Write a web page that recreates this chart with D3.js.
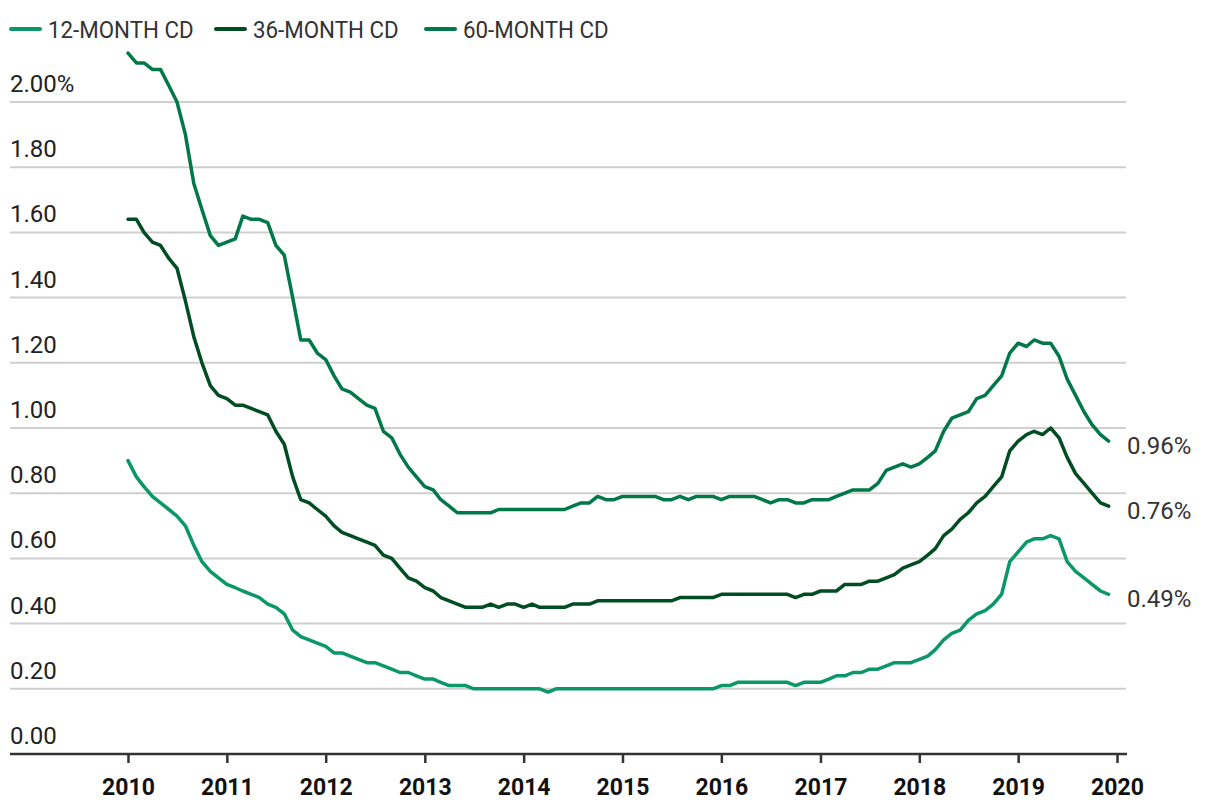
<!DOCTYPE html>
<html><head><meta charset="utf-8">
<script src="https://cdn.jsdelivr.net/npm/d3@7"></script>
<style>
html,body{margin:0;padding:0;background:#fff;}
svg{display:block;font-family:Roboto,"Noto Sans",sans-serif;}
</style></head>
<body><svg id="chart" width="1220" height="812"></svg>
<script>
// Monthly observations, Jan 2010 – Dec 2019
const startMonth = "2010-01-01";
const endMonth = "2019-12-01";
const seriesNames = ["12-MONTH CD", "36-MONTH CD", "60-MONTH CD"];
const seriesColors = ["#0a9868", "#004d23", "#00784a"];
const yTicks = [0, 0.2, 0.4, 0.6, 0.8, 1.0, 1.2, 1.4, 1.6, 1.8, 2.0];
const yTickLabels = ["0.00", "0.20", "0.40", "0.60", "0.80", "1.00", "1.20", "1.40", "1.60", "1.80", "2.00%"];
const xTickYears = [2010, 2011, 2012, 2013, 2014, 2015, 2016, 2017, 2018, 2019, 2020];

const cd12 = [
  0.90, 0.85, 0.82, 0.79, 0.77, 0.75, 0.73, 0.70, 0.64, 0.59, 0.56, 0.54,
  0.52, 0.51, 0.50, 0.49, 0.48, 0.46, 0.45, 0.43, 0.38, 0.36, 0.35, 0.34,
  0.33, 0.31, 0.31, 0.30, 0.29, 0.28, 0.28, 0.27, 0.26, 0.25, 0.25, 0.24,
  0.23, 0.23, 0.22, 0.21, 0.21, 0.21, 0.20, 0.20, 0.20, 0.20, 0.20, 0.20,
  0.20, 0.20, 0.20, 0.19, 0.20, 0.20, 0.20, 0.20, 0.20, 0.20, 0.20, 0.20,
  0.20, 0.20, 0.20, 0.20, 0.20, 0.20, 0.20, 0.20, 0.20, 0.20, 0.20, 0.20,
  0.21, 0.21, 0.22, 0.22, 0.22, 0.22, 0.22, 0.22, 0.22, 0.21, 0.22, 0.22,
  0.22, 0.23, 0.24, 0.24, 0.25, 0.25, 0.26, 0.26, 0.27, 0.28, 0.28, 0.28,
  0.29, 0.30, 0.32, 0.35, 0.37, 0.38, 0.41, 0.43, 0.44, 0.46, 0.49, 0.59,
  0.62, 0.65, 0.66, 0.66, 0.67, 0.66, 0.59, 0.56, 0.54, 0.52, 0.50, 0.49
];
const cd36 = [
  1.64, 1.64, 1.60, 1.57, 1.56, 1.52, 1.49, 1.39, 1.28, 1.20, 1.13, 1.10,
  1.09, 1.07, 1.07, 1.06, 1.05, 1.04, 0.99, 0.95, 0.85, 0.78, 0.77, 0.75,
  0.73, 0.70, 0.68, 0.67, 0.66, 0.65, 0.64, 0.61, 0.60, 0.57, 0.54, 0.53,
  0.51, 0.50, 0.48, 0.47, 0.46, 0.45, 0.45, 0.45, 0.46, 0.45, 0.46, 0.46,
  0.45, 0.46, 0.45, 0.45, 0.45, 0.45, 0.46, 0.46, 0.46, 0.47, 0.47, 0.47,
  0.47, 0.47, 0.47, 0.47, 0.47, 0.47, 0.47, 0.48, 0.48, 0.48, 0.48, 0.48,
  0.49, 0.49, 0.49, 0.49, 0.49, 0.49, 0.49, 0.49, 0.49, 0.48, 0.49, 0.49,
  0.50, 0.50, 0.50, 0.52, 0.52, 0.52, 0.53, 0.53, 0.54, 0.55, 0.57, 0.58,
  0.59, 0.61, 0.63, 0.67, 0.69, 0.72, 0.74, 0.77, 0.79, 0.82, 0.85, 0.93,
  0.96, 0.98, 0.99, 0.98, 1.00, 0.97, 0.91, 0.86, 0.83, 0.80, 0.77, 0.76
];
const cd60 = [
  2.15, 2.12, 2.12, 2.10, 2.10, 2.05, 2.00, 1.90, 1.75, 1.67, 1.59, 1.56,
  1.57, 1.58, 1.65, 1.64, 1.64, 1.63, 1.56, 1.53, 1.40, 1.27, 1.27, 1.23,
  1.21, 1.16, 1.12, 1.11, 1.09, 1.07, 1.06, 0.99, 0.97, 0.92, 0.88, 0.85,
  0.82, 0.81, 0.78, 0.76, 0.74, 0.74, 0.74, 0.74, 0.74, 0.75, 0.75, 0.75,
  0.75, 0.75, 0.75, 0.75, 0.75, 0.75, 0.76, 0.77, 0.77, 0.79, 0.78, 0.78,
  0.79, 0.79, 0.79, 0.79, 0.79, 0.78, 0.78, 0.79, 0.78, 0.79, 0.79, 0.79,
  0.78, 0.79, 0.79, 0.79, 0.79, 0.78, 0.77, 0.78, 0.78, 0.77, 0.77, 0.78,
  0.78, 0.78, 0.79, 0.80, 0.81, 0.81, 0.81, 0.83, 0.87, 0.88, 0.89, 0.88,
  0.89, 0.91, 0.93, 0.99, 1.03, 1.04, 1.05, 1.09, 1.10, 1.13, 1.16, 1.23,
  1.26, 1.25, 1.27, 1.26, 1.26, 1.22, 1.15, 1.10, 1.05, 1.01, 0.98, 0.96
];
const seriesValues = [cd12, cd36, cd60];
const endLabels = ["0.49%", "0.76%", "0.96%"];

const parse = d3.utcParse("%Y-%m-%d");
const months = d3.utcMonth.range(parse(startMonth), d3.utcMonth.offset(parse(endMonth), 1));

const svg = d3.select("#chart");
const x = d3.scaleUtc()
  .domain([new Date(Date.UTC(2010, 0, 1)), new Date(Date.UTC(2020, 0, 1))])
  .range([128, 1117]);
const y = d3.scaleLinear().domain([0, 2]).range([754, 102]);

// gridlines
const grid = svg.append("g");
grid.selectAll("line").data(yTicks.filter(d => d > 0)).join("line")
  .attr("x1", 10).attr("x2", 1126)
  .attr("y1", d => y(d)).attr("y2", d => y(d))
  .attr("stroke", "#cfcfcf").attr("stroke-width", 2);

// y labels
svg.append("g").selectAll("text").data(yTicks).join("text")
  .attr("x", 10).attr("y", d => y(d) - 10)
  .attr("font-size", 24).attr("fill", "#222")
  .text((d, i) => yTickLabels[i]);

// x axis
const xAxis = d3.axisBottom(x)
  .tickValues(xTickYears.map(yr => new Date(Date.UTC(yr, 0, 1))))
  .tickFormat(d3.utcFormat("%Y"))
  .tickSize(9).tickPadding(16);
const gx = svg.append("g").attr("transform", "translate(0,754)").call(xAxis);
gx.select(".domain").attr("d", "M10,0H1127").attr("stroke", "#333").attr("stroke-width", 2.5);
gx.selectAll(".tick line").attr("stroke", "#333").attr("stroke-width", 2.5);
gx.selectAll(".tick text").attr("font-size", 23).attr("font-weight", "bold")
  .attr("fill", "#111").attr("font-family", "Roboto, sans-serif");

// lines
const line = d3.line().x((d, i) => x(months[i])).y(d => y(d));
svg.append("g").selectAll("path").data(seriesValues).join("path")
  .attr("d", d => line(d))
  .attr("fill", "none")
  .attr("stroke", (d, i) => seriesColors[i])
  .attr("stroke-width", 3.5)
  .attr("stroke-linejoin", "round")
  .attr("stroke-linecap", "round");

// end labels
svg.append("g").selectAll("text").data(seriesValues).join("text")
  .attr("x", 1127)
  .attr("y", d => y(d[d.length - 1]) + 13)
  .attr("font-size", 24).attr("fill", "#333")
  .text((d, i) => endLabels[i]);

// legend
const legendX = [11, 216, 426];
const lg = svg.append("g");
seriesNames.forEach((name, i) => {
  lg.append("line")
    .attr("x1", legendX[i]).attr("x2", legendX[i] + 29)
    .attr("y1", 29).attr("y2", 29)
    .attr("stroke", seriesColors[i]).attr("stroke-width", 4)
    .attr("stroke-linecap", "round");
  lg.append("text")
    .attr("transform", `translate(${legendX[i] + 37},37.5) scale(0.93,1)`)
    .attr("font-size", 24).attr("fill", "#333")
    .text(name);
});
</script></body></html>
